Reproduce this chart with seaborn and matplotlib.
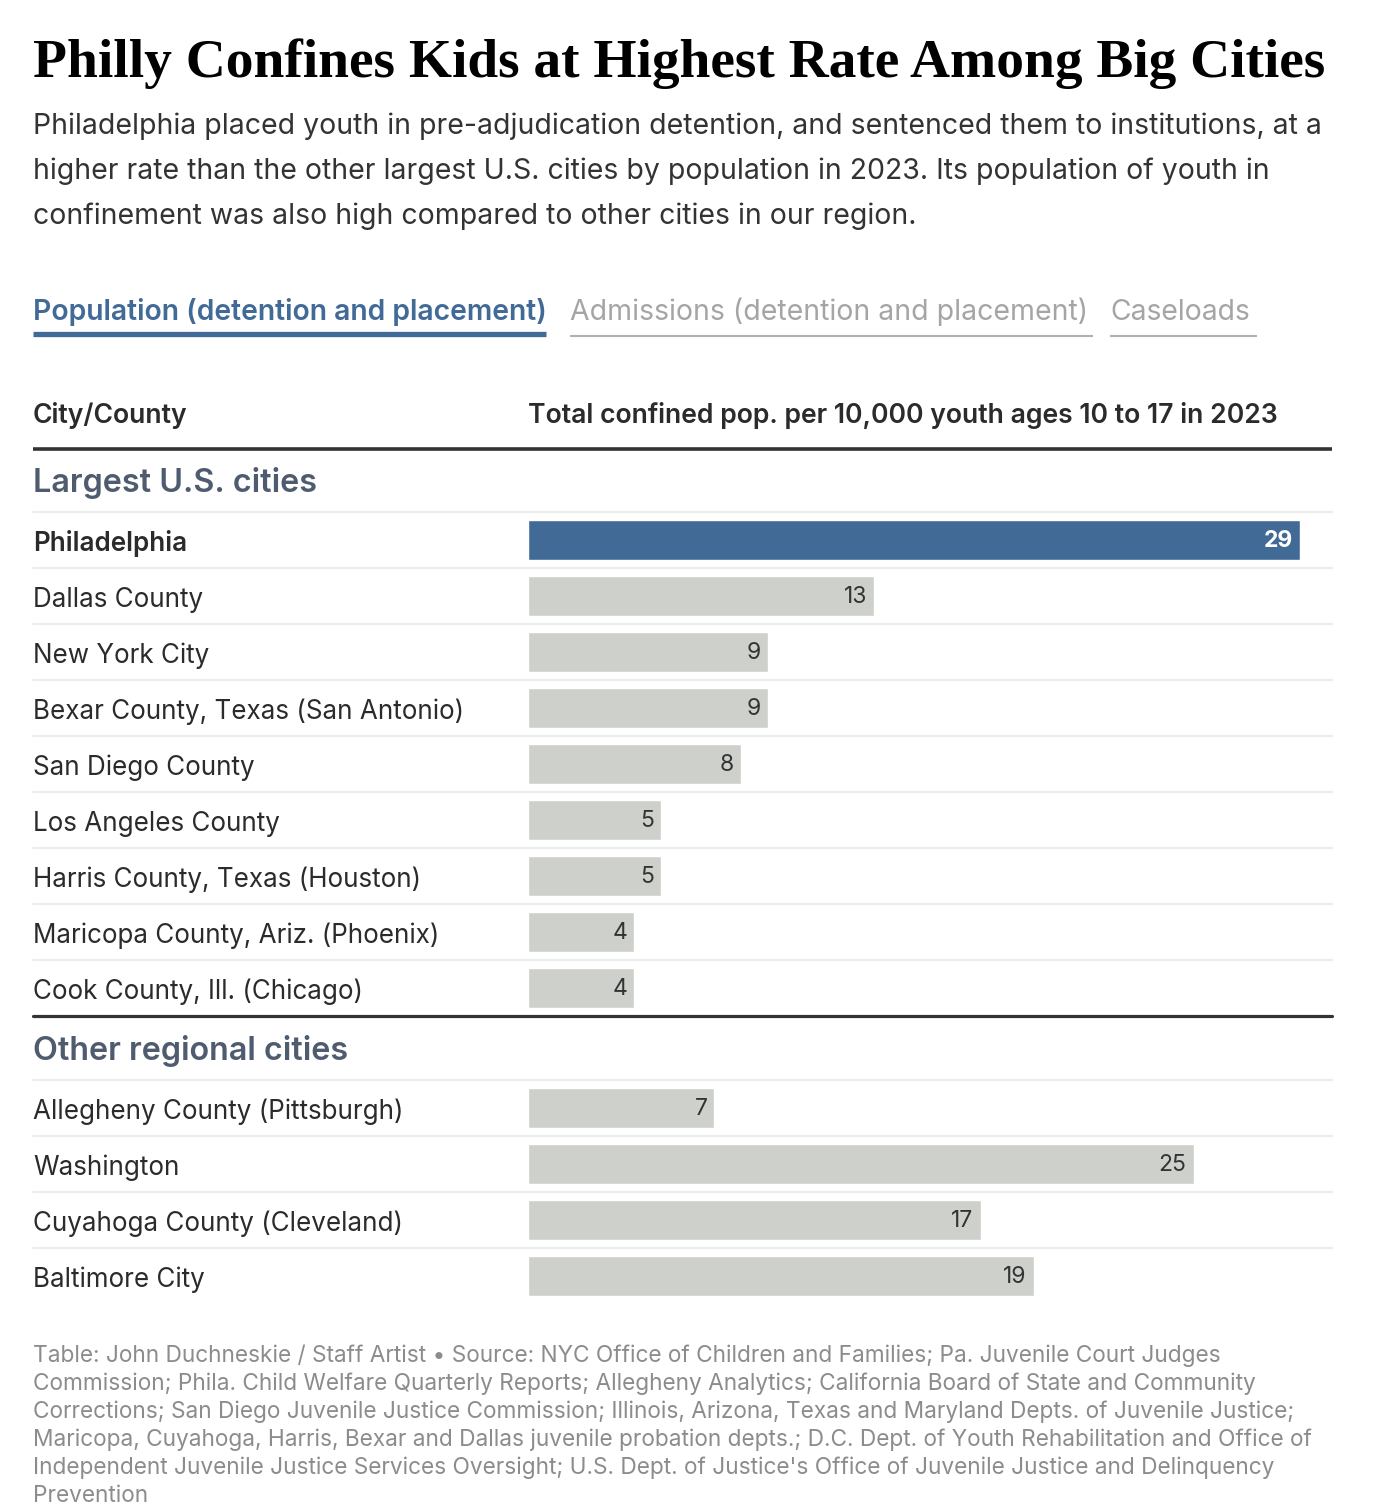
import matplotlib
matplotlib.use("Agg")
import matplotlib.pyplot as plt
import matplotlib.transforms as mtransforms
from matplotlib.lines import Line2D
import pandas as pd
import seaborn as sns

# data
big_cities = ['Philadelphia', 'Dallas County', 'New York City', 'Bexar County, Texas (San Antonio)',
              'San Diego County', 'Los Angeles County', 'Harris County, Texas (Houston)',
              'Maricopa County, Ariz. (Phoenix)', 'Cook County, Ill. (Chicago)']
big_values = [29, 13, 9, 9, 8, 5, 5, 4, 4]

regional_cities = ['Allegheny County (Pittsburgh)', 'Washington', 'Cuyahoga County (Cleveland)', 'Baltimore City']
regional_values = [7, 25, 17, 19]

highlight = 'Philadelphia'

title = 'Philly Confines Kids at Highest Rate Among Big Cities'
subtitle = ['Philadelphia placed youth in pre-adjudication detention, and sentenced them to institutions, at a',
            'higher rate than the other largest U.S. cities by population in 2023. Its population of youth in',
            'confinement was also high compared to other cities in our region.']
tabs = ['Population (detention and placement)', 'Admissions (detention and placement)', 'Caseloads']
col1 = 'City/County'
col2 = 'Total confined pop. per 10,000 youth ages 10 to 17 in 2023'
sections = ['Largest U.S. cities', 'Other regional cities']
footer = ["Table: John Duchneskie / Staff Artist \u2022 Source: NYC Office of Children and Families; Pa. Juvenile Court Judges",
          "Commission; Phila. Child Welfare Quarterly Reports; Allegheny Analytics; California Board of State and Community",
          "Corrections; San Diego Juvenile Justice Commission; Illinois, Arizona, Texas and Maryland Depts. of Juvenile Justice;",
          "Maricopa, Cuyahoga, Harris, Bexar and Dallas juvenile probation depts.; D.C. Dept. of Youth Rehabilitation and Office of",
          "Independent Juvenile Justice Services Oversight; U.S. Dept. of Justice's Office of Juvenile Justice and Delinquency",
          "Prevention"]

BLUE = '#426a97'
GREY_BAR = '#cdd0cb'
DARK = '#2b2b2b'
SLATE = '#4f5b6e'
SEP = '#ececec'

sns.set_theme(style='white')
plt.rcParams['font.family'] = ['Inter', 'DejaVu Sans']

W, H = 1384, 1508
fig = plt.figure(figsize=(W / 100, H / 100), dpi=100)
fig.patch.set_facecolor('white')
renderer = fig.canvas.get_renderer()


def fx(x):
    return x / W


def fy(y):
    return 1 - y / H


def fit(t, width_px):
    # scale the font so the text spans the width seen in the reference
    bb = t.get_window_extent(renderer)
    t.set_fontsize(t.get_fontsize() * width_px / bb.width)
    return t.get_fontsize()


# header texts
t = fig.text(fx(33), fy(77), title, fontsize=40, fontweight='bold', family='Liberation Serif',
             color='black', va='baseline', ha='left')
fit(t, 1290)

sub_objs = []
for k, line in enumerate(subtitle):
    sub_objs.append(fig.text(fx(33), fy(134 + k * 45), line, fontsize=19, color='#333333',
                             va='baseline', ha='left'))
s = fit(sub_objs[0], 1281)
for o in sub_objs:
    o.set_fontsize(s)

tab_x = [(33, 546, 513), (570, 1093, 516), (1110, 1257, 140)]
for i, (tx, (x0, x1, tw)) in enumerate(zip(tabs, tab_x)):
    active = i == 0
    t = fig.text(fx(x0), fy(320), tx, fontsize=19, fontweight='semibold' if active else 'normal',
                 color=BLUE if active else '#a5a5a5', va='baseline', ha='left')
    fit(t, tw)
    ly = 334 if active else 336
    fig.add_artist(Line2D([fx(x0), fx(x1)], [fy(ly), fy(ly)],
                          color=BLUE if active else '#b0b0b0', lw=3.8 if active else 1.5,
                          solid_capstyle='butt'))

t2 = fig.text(fx(528), fy(423), col2, fontsize=18, fontweight='semibold', color=DARK,
              va='baseline', ha='left')
hs = fit(t2, 750)
fig.text(fx(33), fy(423), col1, fontsize=hs, fontweight='semibold', color=DARK, va='baseline', ha='left')
fig.add_artist(Line2D([fx(33), fx(1332)], [fy(449), fy(449)], color='#333333', lw=2.6,
                      solid_capstyle='butt'))

t3 = fig.text(fx(33), fy(492), sections[0], fontsize=22, fontweight='semibold', color=SLATE,
              va='baseline', ha='left')
ss = fit(t3, 284)
fig.text(fx(33), fy(1060), sections[1], fontsize=ss, fontweight='semibold', color=SLATE,
         va='baseline', ha='left')

# common size for the row labels, from the widest one
probe = fig.text(0, 0, big_cities[3], fontsize=18)
row_fs = fit(probe, 430)
probe.remove()

# bar sections
row_h = 56
axes_specs = [(big_cities, big_values, 512), (regional_cities, regional_values, 1080)]
xmax = 804 / 26.62
axes = []
for cities, values, top in axes_specs:
    n = len(cities)
    ax = fig.add_axes([fx(528), fy(top + n * row_h), fx(1332) - fx(528), n * row_h / H])
    df = pd.DataFrame({'city': cities, 'value': values})
    palette = {c: (BLUE if c == highlight else GREY_BAR) for c in cities}
    sns.barplot(data=df, x='value', y='city', hue='city', palette=palette, order=cities,
                orient='h', width=40 / 56, saturation=1, legend=False, ax=ax)
    ax.set_xlim(0, xmax)
    ax.set_ylim(n - 0.5, -0.5)
    ax.set_xlabel('')
    ax.set_ylabel('')
    ax.set_xticks([])
    ax.set_yticks([])
    for sp in ax.spines.values():
        sp.set_visible(False)
    ax.patch.set_alpha(0)

    lab_tr = mtransforms.blended_transform_factory(fig.transFigure, ax.transData)
    lab_tr = lab_tr + mtransforms.ScaledTranslation(0, -11 / 100, fig.dpi_scale_trans)
    x_left = (33 - 528) / 804
    for i, (c, v) in enumerate(zip(cities, values)):
        hl = c == highlight
        ax.text(fx(33), i, c, transform=lab_tr, fontsize=row_fs,
                fontweight='semibold' if hl else 'normal', color=DARK, va='baseline', ha='left')
        ax.annotate(str(v), xy=(v, i), xytext=(-5, -0.5), textcoords='offset points',
                    ha='right', va='center', fontsize=16.5,
                    fontweight='bold' if hl else 'normal',
                    color='white' if hl else '#333333')
        ax.axhline(i - 0.5, xmin=x_left, xmax=1, color=SEP, lw=1.5, clip_on=False, zorder=0)
    axes.append(ax)

axes[0].axhline(len(big_cities) - 0.5, xmin=(33 - 528) / 804, xmax=1, color='#333333',
                lw=2.3, clip_on=False, zorder=3)

foot_objs = []
for k, line in enumerate(footer):
    foot_objs.append(fig.text(fx(33), fy(1362 + k * 28), line, fontsize=15, color='#8c8c8c',
                              va='baseline', ha='left'))
fs = fit(foot_objs[3], 1284)
for o in foot_objs:
    o.set_fontsize(fs)

fig.savefig('out.png', dpi=100, facecolor='white')
